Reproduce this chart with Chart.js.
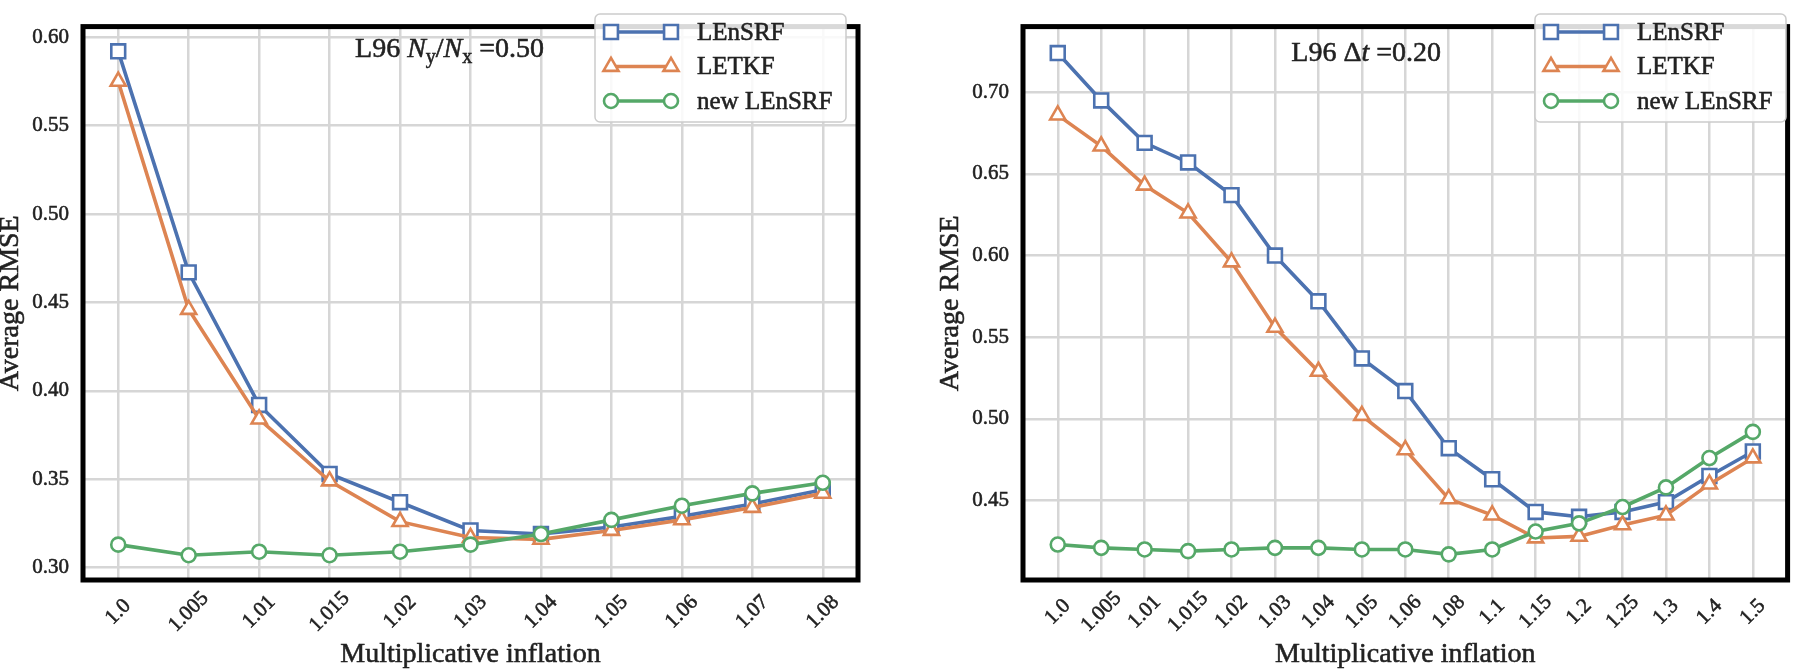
<!DOCTYPE html>
<html>
<head>
<meta charset="utf-8">
<title>Average RMSE vs multiplicative inflation</title>
<script src="https://cdn.jsdelivr.net/npm/chart.js@4.4.0/dist/chart.umd.min.js"></script>
<style>
  html, body { margin: 0; padding: 0; background: #fff; }
  #wrap { position: relative; width: 1800px; height: 671px; overflow: hidden; }
  canvas { position: absolute; top: 0; }
  #left { left: 0; }
  #right { left: 900px; }
</style>
</head>
<body>
<div id="wrap">
  <canvas id="left" width="900" height="671"></canvas>
  <canvas id="right" width="900" height="671"></canvas>
</div>
<script>
// left panel: L96 Ny/Nx = 0.50
const leftCategories = ["1.0", "1.005", "1.01", "1.015", "1.02", "1.03", "1.04", "1.05", "1.06", "1.07", "1.08"];
const leftLEnSRF = [0.592, 0.467, 0.392, 0.353, 0.337, 0.321, 0.319, 0.323, 0.329, 0.336, 0.344];
const leftLETKF = [0.575, 0.446, 0.384, 0.349, 0.326, 0.317, 0.316, 0.321, 0.327, 0.334, 0.342];
const leftNew = [0.313, 0.307, 0.309, 0.307, 0.309, 0.313, 0.319, 0.327, 0.335, 0.342, 0.348];
const leftYTicks = [0.30, 0.35, 0.40, 0.45, 0.50, 0.55, 0.60];

// right panel: L96 dt = 0.20
const rightCategories = ["1.0", "1.005", "1.01", "1.015", "1.02", "1.03", "1.04", "1.05", "1.06", "1.08", "1.1", "1.15", "1.2", "1.25", "1.3", "1.4", "1.5"];
const rightLEnSRF = [0.724, 0.695, 0.669, 0.657, 0.637, 0.600, 0.572, 0.537, 0.517, 0.482, 0.463, 0.443, 0.440, 0.443, 0.449, 0.465, 0.480];
const rightLETKF = [0.686, 0.667, 0.643, 0.626, 0.596, 0.556, 0.529, 0.502, 0.481, 0.451, 0.441, 0.427, 0.428, 0.435, 0.441, 0.460, 0.476];
const rightNew = [0.423, 0.421, 0.420, 0.419, 0.420, 0.421, 0.421, 0.420, 0.420, 0.417, 0.420, 0.431, 0.436, 0.446, 0.458, 0.476, 0.492];
const rightYTicks = [0.45, 0.50, 0.55, 0.60, 0.65, 0.70];

const seriesNames = ["LEnSRF", "LETKF", "new LEnSRF"];

const FONT = "'Liberation Serif', 'DejaVu Serif', serif";
const INK = "#222";
const GRID = "#d6d6d6";
const STYLES = [
  { color: "#4c72b0", shape: "rect", radius: 9.8 },
  { color: "#dd8452", shape: "triangle", radius: 8.7 },
  { color: "#55a868", shape: "circle", radius: 7 }
];

function makeDatasets(lists) {
  return lists.map((values, k) => ({
    label: seriesNames[k],
    data: values.map((v, i) => ({ x: i, y: v })),
    borderColor: STYLES[k].color,
    borderWidth: 3.6,
    pointStyle: STYLES[k].shape,
    pointRadius: STYLES[k].radius,
    pointHoverRadius: STYLES[k].radius,
    pointBorderColor: STYLES[k].color,
    pointBackgroundColor: "#fff",
    pointBorderWidth: 2.6,
    tension: 0,
    fill: false,
    clip: false,
    order: lists.length - k   // later series on top, like matplotlib
  }));
}

// same shapes as chart.js uses, for the legend handles
function marker(ctx, st, x, y) {
  const r = st.radius;
  ctx.beginPath();
  if (st.shape === "rect") {
    const s = r * Math.SQRT1_2;
    ctx.rect(x - s, y - s, 2 * s, 2 * s);
  } else if (st.shape === "triangle") {
    for (let j = 0; j < 3; j++) {
      const a = j * 2 * Math.PI / 3;
      const px = x + Math.sin(a) * r, py = y - Math.cos(a) * r;
      j ? ctx.lineTo(px, py) : ctx.moveTo(px, py);
    }
    ctx.closePath();
  } else {
    ctx.arc(x, y, r, 0, 2 * Math.PI);
  }
  ctx.fillStyle = "#fff";
  ctx.fill();
  ctx.lineWidth = 2.6;
  ctx.strokeStyle = st.color;
  ctx.stroke();
}

// slightly heavier text, closer to the TeX look
function txt(ctx, s, x, y) {
  ctx.fillStyle = INK;
  ctx.strokeStyle = INK;
  ctx.lineWidth = 0.55;
  ctx.fillText(s, x, y);
  ctx.strokeText(s, x, y);
}

function drawRuns(ctx, runs, x, y) {
  runs.forEach(r => {
    const size = r.sub ? 20 : 28;
    ctx.font = (r.it ? "italic " : "") + size + "px " + FONT;
    txt(ctx, r.t, x, y + (r.sub ? 6 : 0));
    x += ctx.measureText(r.t).width;
  });
}

const decor = {
  id: "decor",
  afterDraw(chart, args, opts) {
    const { ctx, chartArea: a } = chart;
    const xs = chart.scales.x;
    ctx.save();

    // axes frame
    ctx.strokeStyle = "#000";
    ctx.lineWidth = 5;
    ctx.strokeRect(a.left, a.top, a.right - a.left, a.bottom - a.top);

    // rotated category labels
    ctx.font = "21px " + FONT;
    ctx.textAlign = "center";
    ctx.textBaseline = "middle";
    opts.categories.forEach((c, i) => {
      ctx.save();
      ctx.translate(xs.getPixelForValue(i), a.bottom + 32);
      ctx.rotate(-Math.PI / 4);
      txt(ctx, c, 0, 0);
      ctx.restore();
    });

    // axis titles
    ctx.font = "28px " + FONT;
    ctx.textBaseline = "alphabetic";
    txt(ctx, "Multiplicative inflation", (a.left + a.right) / 2, a.bottom + 82);
    ctx.save();
    ctx.translate(a.left - 65, (a.top + a.bottom) / 2);
    ctx.rotate(-Math.PI / 2);
    txt(ctx, "Average RMSE", 0, 0);
    ctx.restore();

    // annotation
    ctx.textAlign = "left";
    drawRuns(ctx, opts.note, a.left + 0.351 * (a.right - a.left), opts.noteY);

    // legend
    const lx = a.left + 512, ly = 14, lw = 251, lh = 108;
    ctx.beginPath();
    ctx.roundRect(lx, ly, lw, lh, 5);
    ctx.fillStyle = "rgba(255,255,255,0.85)";
    ctx.fill();
    ctx.lineWidth = 1.5;
    ctx.strokeStyle = "#cccccc";
    ctx.stroke();
    ctx.font = "25px " + FONT;
    ctx.textBaseline = "middle";
    seriesNames.forEach((name, k) => {
      const y = ly + 18 + k * 34.5;
      ctx.beginPath();
      ctx.moveTo(lx + 16, y);
      ctx.lineTo(lx + 76, y);
      ctx.lineWidth = 3.6;
      ctx.strokeStyle = STYLES[k].color;
      ctx.stroke();
      marker(ctx, STYLES[k], lx + 16, y);
      marker(ctx, STYLES[k], lx + 76, y);
      txt(ctx, name, lx + 102, y + 1);
    });

    ctx.restore();
  }
};

function makeChart(id, cats, lists, yTicks, yMin, yMax, yWidth, padRight, note, noteY) {
  const n = cats.length - 1;
  return new Chart(document.getElementById(id), {
    type: "line",
    data: { datasets: makeDatasets(lists) },
    options: {
      responsive: false,
      animation: false,
      events: [],
      layout: { padding: { top: 2, right: padRight, bottom: 0, left: 0 } },
      plugins: {
        legend: { display: false },
        tooltip: { enabled: false },
        decor: { categories: cats, note: note, noteY: noteY }
      },
      scales: {
        x: {
          type: "linear",
          min: -0.05 * n,
          max: 1.05 * n,
          afterBuildTicks: s => { s.ticks = cats.map((c, i) => ({ value: i })); },
          afterFit: s => { s.height = 91; },
          ticks: { display: false },
          grid: { color: GRID, lineWidth: 2.5, drawTicks: false },
          border: { display: false }
        },
        y: {
          min: yMin,
          max: yMax,
          afterBuildTicks: s => { s.ticks = yTicks.map(v => ({ value: v })); },
          afterFit: s => { s.width = yWidth; },
          ticks: {
            padding: 14,
            color: INK,
            textStrokeColor: INK,
            textStrokeWidth: 0.55,
            font: { family: FONT, size: 21 },
            callback: v => Number(v).toFixed(2)
          },
          grid: { color: GRID, lineWidth: 2.5, drawTicks: false },
          border: { display: false }
        }
      }
    },
    plugins: [decor]
  });
}

makeChart("left", leftCategories, [leftLEnSRF, leftLETKF, leftNew], leftYTicks, 0.293, 0.606, 83, 42,
  [{ t: "L96 " }, { t: "N", it: true }, { t: "y", sub: true }, { t: "/" }, { t: "N", it: true }, { t: "x", sub: true }, { t: " =0.50" }], 57);

makeChart("right", rightCategories, [rightLEnSRF, rightLETKF, rightNew], rightYTicks, 0.4013, 0.7402, 123, 4,
  [{ t: "L96 \u0394" }, { t: "t", it: true }, { t: " =0.20" }], 61);
</script>
</body>
</html>
